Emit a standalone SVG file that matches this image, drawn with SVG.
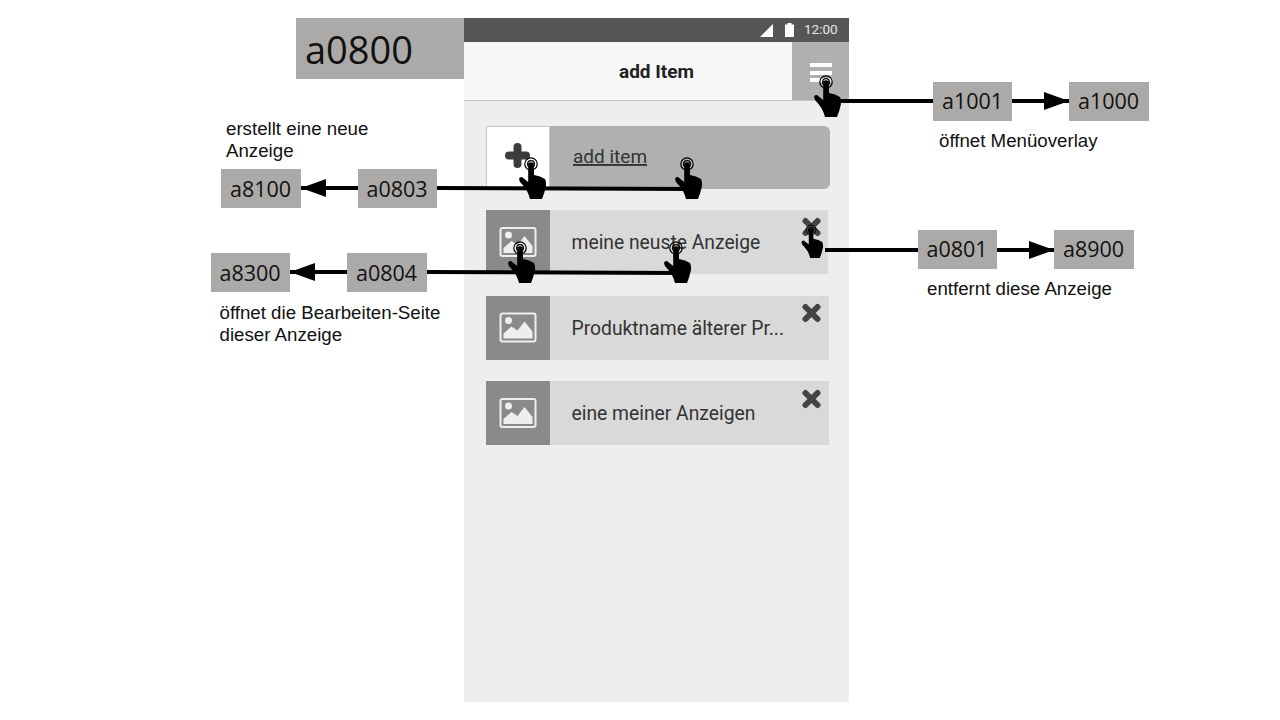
<svg xmlns="http://www.w3.org/2000/svg" xmlns:xlink="http://www.w3.org/1999/xlink" width="1280" height="720" viewBox="0 0 1280 720">
<style>
.tag{fill:#abaaa8}
.tagt{font-family:"Open Sans","Noto Sans",sans-serif;font-size:21.5px;fill:#111;text-anchor:middle}
.note{font-family:"Liberation Sans",Arial,sans-serif;font-size:18.7px;fill:#111}
.ui{font-family:Roboto,sans-serif;font-size:19.300px;fill:#333}
.wire{stroke:#000;stroke-width:4;fill:none}
.thumb{fill:#8a8a8a}
.row{fill:#d9d9d9}
.x{stroke:#444;stroke-width:6;stroke-linecap:round}
</style>
<defs>
<g id="hand">
<circle r="6.2" fill="none" stroke="#000" stroke-width="1.2"/>
<circle r="3.400" fill="none" stroke="#000" stroke-width="1.2"/>
<path d="M-2.800 -1Q0 -2.500 2.800 -1L3 11L9 12.500L14 15Q15.500 18 15 22Q13.500 29 11 35L-1 35Q-2 31 -4 27Q-8 21 -11 18Q-13.500 13 -9 13L-2.800 18Z" fill="#000"/>
</g>
<g id="imgicon">
<rect x="-17" y="-14" width="35" height="28" rx="2" fill="none" stroke="#eee" stroke-width="2"/>
<circle cx="-9" cy="-7" r="3.500" fill="#eee"/>
<path d="M-14 11L-14 6L-6 -1L0 3L7 -6L15 4L15 11Z" fill="#eee"/>
</g>
<g id="cross"><path class="x" d="M-6 -6L6 6M6 -6L-6 6"/></g>
<marker id="ah" markerUnits="userSpaceOnUse" markerWidth="26" markerHeight="20" refX="25" refY="10" orient="auto"><path d="M0 1L25 10L0 19Z" fill="#000"/></marker>
</defs>

<g id="phone">
<rect x="464" y="18" width="385" height="684" fill="#eeeef0"/>
<rect x="464" y="18" width="385" height="24" fill="#565656"/>
<path d="M760 37L773 24V37Z" fill="#fff"/>
<path d="M785 24.500h2.500v-1.500h4v1.500h2.500V37h-9Z" fill="#fff"/>
<text x="804" y="34" font-family="Roboto,sans-serif" font-size="13.500" fill="#e6e6e6">12:00</text>
<rect x="464" y="42" width="385" height="58" fill="#f7f7f7"/>
<rect x="464" y="100" width="385" height="1" fill="#c4c4c4"/>
<text x="656.500" y="78" font-family="Roboto,sans-serif" font-size="19" font-weight="700" fill="#222" text-anchor="middle">add Item</text>
</g>

<g id="a0800"><rect class="tag" x="296" y="18" width="168" height="61"/><text class="tagt" x="359" y="64" style="font-size:38px">a0800</text></g>

<g id="menu-button">
<rect x="792" y="42" width="57" height="58" fill="#b0b0b0"/>
<path d="M810 65h22M810 73h22M810 80h22" stroke="#fff" stroke-width="4"/>
</g>

<g id="add-item">
<rect x="486" y="126" width="344" height="63" rx="6" fill="#b0b0b0"/>
<rect x="486.500" y="126.500" width="63" height="63" fill="#fff" stroke="#c8c8c8"/>
<path d="M509 155.500H526M517.500 147V164" stroke="#3c3c3c" stroke-width="8" stroke-linecap="round"/>
<text class="ui" x="573" y="163" style="font-size:19px;text-decoration:underline">add item</text>
</g>

<g id="item-1">
<rect class="row" x="486" y="210" width="342" height="64"/>
<rect class="thumb" x="486" y="210" width="64" height="64"/>
<use xlink:href="#imgicon" href="#imgicon" x="517.500" y="242"/>
<text class="ui" x="571.500" y="249">meine neuste Anzeige</text>
<use xlink:href="#cross" href="#cross" x="811.500" y="227"/>
</g>

<g id="item-2">
<rect class="row" x="486" y="296" width="343" height="64"/>
<rect class="thumb" x="486" y="296" width="64" height="64"/>
<use xlink:href="#imgicon" href="#imgicon" x="517.500" y="327.500"/>
<text class="ui" x="571.500" y="335">Produktname älterer Pr...</text>
<use xlink:href="#cross" href="#cross" x="811.500" y="313"/>
</g>

<g id="item-3">
<rect class="row" x="486" y="381" width="343" height="64"/>
<rect class="thumb" x="486" y="381" width="64" height="64"/>
<use xlink:href="#imgicon" href="#imgicon" x="517.500" y="413"/>
<text class="ui" x="571.500" y="420">eine meiner Anzeigen</text>
<use xlink:href="#cross" href="#cross" x="811.500" y="399"/>
</g>

<g id="connectors">
<path class="wire" d="M830 101H933"/>
<path class="wire" d="M1012 101H1069" marker-end="url(#ah)"/>
<path class="wire" d="M825 250H918"/>
<path class="wire" d="M997 250H1054" marker-end="url(#ah)"/>
<path class="wire" d="M358 188H301" marker-end="url(#ah)"/>
<path class="wire" d="M437 188L690 189"/>
<path class="wire" d="M347 272H290" marker-end="url(#ah)"/>
<path class="wire" d="M427 272L680 273"/>
</g>

<g id="hands">
<use xlink:href="#hand" href="#hand" x="826" y="82"/>
<use xlink:href="#hand" href="#hand" x="531" y="164"/>
<use xlink:href="#hand" href="#hand" x="687" y="164"/>
<use xlink:href="#hand" href="#hand" x="520" y="248"/>
<use xlink:href="#hand" href="#hand" x="676" y="248"/>
<use xlink:href="#hand" href="#hand" x="811" y="230" transform="translate(811 230) scale(.8) translate(-811 -230)"/>
</g>

<g id="a1001"><rect class="tag" x="933" y="82" width="79" height="39"/><text class="tagt" x="972.500" y="109">a1001</text></g>
<g id="a1000"><rect class="tag" x="1069" y="82" width="80" height="39"/><text class="tagt" x="1108.500" y="109">a1000</text></g>
<g id="a0801"><rect class="tag" x="918" y="230" width="79" height="39"/><text class="tagt" x="957" y="257">a0801</text></g>
<g id="a8900"><rect class="tag" x="1054" y="230" width="80" height="39"/><text class="tagt" x="1093.500" y="257">a8900</text></g>
<g id="a8100"><rect class="tag" x="221" y="169" width="80" height="39"/><text class="tagt" x="260.500" y="197">a8100</text></g>
<g id="a0803"><rect class="tag" x="358" y="169" width="79" height="39"/><text class="tagt" x="397" y="197">a0803</text></g>
<g id="a8300"><rect class="tag" x="211" y="253" width="79" height="39"/><text class="tagt" x="250" y="281">a8300</text></g>
<g id="a0804"><rect class="tag" x="347" y="253" width="80" height="39"/><text class="tagt" x="386.500" y="281">a0804</text></g>

<g id="notes">
<text class="note" x="939" y="147">öffnet Menüoverlay</text>
<text class="note" x="927" y="295">entfernt diese Anzeige</text>
<text class="note" x="226" y="135">erstellt eine neue</text>
<text class="note" x="226" y="157">Anzeige</text>
<text class="note" x="219.500" y="319">öffnet die Bearbeiten-Seite</text>
<text class="note" x="219.500" y="341">dieser Anzeige</text>
</g>
</svg>
